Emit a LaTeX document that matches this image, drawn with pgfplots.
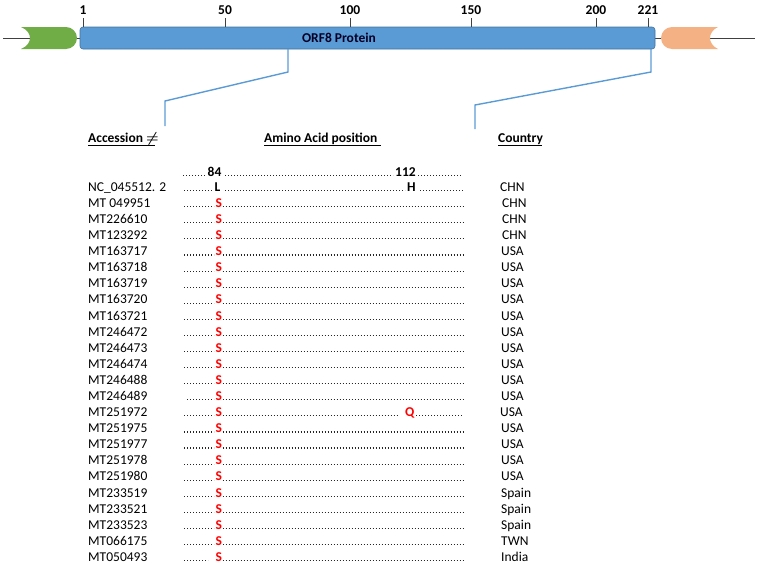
\documentclass[border=0pt]{standalone}
\usepackage{amsmath}
\usepackage{fontspec}
\setmainfont{Carlito}
\usepackage{pgfplots}
\pgfplotsset{compat=1.18}
\definecolor{barblue}{HTML}{5B9BD5}
\definecolor{baredge}{HTML}{41719C}
\definecolor{greenc}{HTML}{70AD47}
\definecolor{orangec}{HTML}{F4B183}
\definecolor{linegray}{HTML}{404040}
\definecolor{seqred}{HTML}{FF0000}
\tikzset{
  txt/.style={inner sep=0pt, anchor=base west, font=\fontsize{13.5}{16}\selectfont},
  btxt/.style={txt, font=\fontsize{13.5}{16}\selectfont\bfseries},
  rtxt/.style={btxt, text=seqred},
  dotrow/.style={black!85, line width=1.1pt, dash pattern=on 1.1pt off 1.9pt, yshift=0.7pt, mark=none},
}
\newcommand{\srow}[3]{%
  \node[txt] at (axis cs:88,#1) {#2};
  \node[txt] at (axis cs:501,#1) {#3};
  \addplot[dotrow] coordinates {(184,#1) (214,#1)};
  \node[rtxt] at (axis cs:215.5,#1) {S};
  \addplot[dotrow] coordinates {(222.5,#1) (463,#1)};
}
\begin{document}
\begin{tikzpicture}
\begin{axis}[scale only axis, width=758pt, height=565pt,
  xmin=0, xmax=758, ymin=0, ymax=565, y dir=reverse,
  hide axis, clip=false]
\path (axis cs:0,0) (axis cs:758,565);
% backbone lines
\addplot[linegray, line width=1pt, mark=none] coordinates {(3,38) (30,38)};
\addplot[linegray, line width=1pt, mark=none] coordinates {(76,38) (81,38)};
\addplot[linegray, line width=1pt, mark=none] coordinates {(654,38) (662,38)};
\addplot[linegray, line width=1pt, mark=none] coordinates {(710,38) (755,38)};
% green element
\fill[greenc] (axis cs:21,27) -- (axis cs:66,27) .. controls (axis cs:72,27) and (axis cs:77,32) .. (axis cs:77,38)
  .. controls (axis cs:77,44) and (axis cs:72,49) .. (axis cs:66,49) -- (axis cs:21,49)
  .. controls (axis cs:33,44) and (axis cs:33,32) .. (axis cs:21,27) -- cycle;
% orange element
\fill[orangec] (axis cs:672,27) -- (axis cs:718,27) .. controls (axis cs:707.3,32) and (axis cs:707.3,44) .. (axis cs:718,49)
  -- (axis cs:672,49) .. controls (axis cs:666,49) and (axis cs:661,44) .. (axis cs:661,38)
  .. controls (axis cs:661,32) and (axis cs:666,27) .. (axis cs:672,27) -- cycle;
% ORF8 bar
\filldraw[fill=barblue, draw=baredge, line width=0.6pt, rounded corners=3pt] (axis cs:80,27) rectangle (axis cs:655,49);
\node[btxt, anchor=base, text=black!85!blue] at (axis cs:339,42.3) {ORF8 Protein};
% ticks
\addplot[linegray, line width=1pt, mark=none] coordinates {(83,18) (83,27)};
\addplot[linegray, line width=1pt, mark=none] coordinates {(225,18) (225,27)};
\addplot[linegray, line width=1pt, mark=none] coordinates {(350,18) (350,27)};
\addplot[linegray, line width=1pt, mark=none] coordinates {(471,18) (471,27)};
\addplot[linegray, line width=1pt, mark=none] coordinates {(596,18) (596,27)};
\addplot[linegray, line width=1pt, mark=none] coordinates {(648,18) (648,27)};
\node[btxt, anchor=base] at (axis cs:83,14.3) {1};
\node[btxt, anchor=base] at (axis cs:225,14.3) {50};
\node[btxt, anchor=base] at (axis cs:350,14.3) {100};
\node[btxt, anchor=base] at (axis cs:471,14.3) {150};
\node[btxt, anchor=base] at (axis cs:596,14.3) {200};
\node[btxt, anchor=base] at (axis cs:648,14.3) {221};
% callout lines
\addplot[barblue, line width=1.4pt, mark=none] coordinates {(288,49) (288,72) (165,101) (165,126)};
\addplot[barblue, line width=1.4pt, mark=none] coordinates {(651,49) (651,72) (475,105) (475,129)};
% headers
\node[btxt] at (axis cs:88,142.3) {Accession $\boldsymbol{\neq}$};
\node[btxt] at (axis cs:264,142.3) {Amino Acid position};
\node[btxt] at (axis cs:498,142.3) {Country};
\addplot[black, line width=0.8pt, mark=none] coordinates {(88,145.5) (155,145.5)};
\addplot[black, line width=0.8pt, mark=none] coordinates {(264,145.5) (381,145.5)};
\addplot[black, line width=0.8pt, mark=none] coordinates {(498,145.5) (542,145.5)};
% position row
\addplot[dotrow] coordinates {(183,176.3) (206,176.3)};
\node[btxt] at (axis cs:207.5,176.3) {84};
\addplot[dotrow] coordinates {(225,176.3) (393,176.3)};
\node[btxt] at (axis cs:395,176.3) {112};
\addplot[dotrow] coordinates {(418,176.3) (462,176.3)};
% reference row
\node[txt] at (axis cs:88,191.3) {NC\_045512. 2};
\node[txt] at (axis cs:500,191.3) {CHN};
\addplot[dotrow] coordinates {(184,191.3) (213,191.3)};
\node[btxt] at (axis cs:214.5,191.3) {L};
\addplot[dotrow] coordinates {(225,191.3) (405,191.3)};
\node[btxt] at (axis cs:407,191.3) {H};
\addplot[dotrow] coordinates {(420,191.3) (463,191.3)};
% variant rows
\srow{207.4}{MT 049951}{\hspace{1pt}CHN}
\srow{223.5}{MT226610}{\hspace{1pt}CHN}
\srow{239.6}{MT123292}{\hspace{1pt}CHN}
\srow{255.7}{MT163717}{USA}
\srow{271.8}{MT163718}{USA}
\srow{287.8}{MT163719}{USA}
\srow{303.9}{MT163720}{USA}
\srow{320.0}{MT163721}{USA}
\srow{336.1}{MT246472}{USA}
\srow{352.2}{MT246473}{USA}
\srow{368.3}{MT246474}{USA}
\srow{384.4}{MT246488}{USA}
% MT246489
\node[txt] at (axis cs:88,400.5) {MT246489};
\node[txt] at (axis cs:501,400.5) {USA};
\addplot[dotrow] coordinates {(187,400.5) (214,400.5)};
\node[rtxt] at (axis cs:215.5,400.5) {S};
\addplot[dotrow] coordinates {(222.5,400.5) (463,400.5)};
% MT251972
\node[txt] at (axis cs:88,416.6) {MT251972};
\node[txt] at (axis cs:500,416.6) {USA};
\addplot[dotrow] coordinates {(184,416.6) (214,416.6)};
\node[rtxt] at (axis cs:215.5,416.6) {S};
\addplot[dotrow] coordinates {(222.5,416.6) (399,416.6)};
\node[rtxt] at (axis cs:405,416.6) {Q};
\addplot[dotrow] coordinates {(416,416.6) (462,416.6)};
\srow{432.7}{MT251975}{USA}
\srow{448.7}{MT251977}{USA}
\srow{464.8}{MT251978}{USA}
\srow{480.9}{MT251980}{USA}
\srow{497.0}{MT233519}{Spain}
\srow{513.1}{MT233521}{Spain}
\srow{529.2}{MT233523}{Spain}
\srow{545.3}{MT066175}{TWN}
% MT050493
\node[txt] at (axis cs:88,561.4) {MT050493};
\node[txt] at (axis cs:501,561.4) {India};
\addplot[dotrow] coordinates {(184,561.4) (208,561.4)};
\node[rtxt] at (axis cs:215.5,561.4) {S};
\addplot[dotrow] coordinates {(222.5,561.4) (463,561.4)};
\end{axis}
\end{tikzpicture}
\end{document}
